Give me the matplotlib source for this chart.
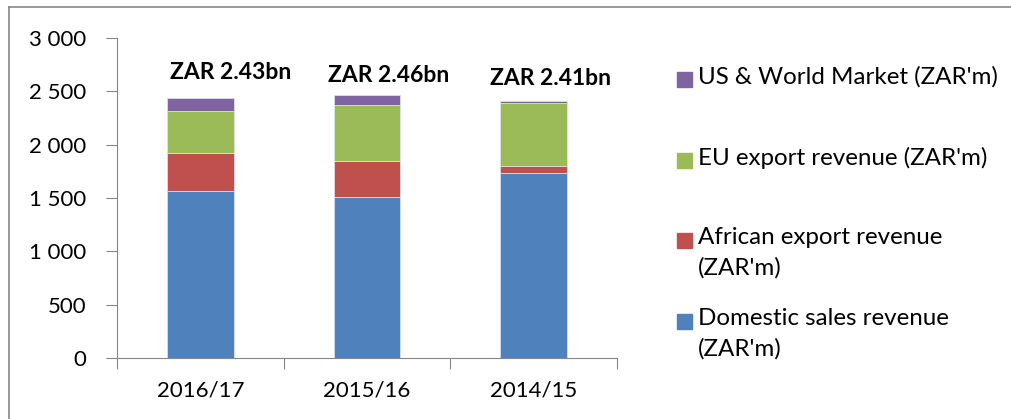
import numpy as np
import matplotlib.pyplot as plt
from matplotlib.lines import Line2D
from matplotlib.patches import Rectangle
from matplotlib.ticker import FuncFormatter, FixedLocator

plt.rcParams['font.family'] = ['Lato', 'DejaVu Sans']

years = ['2016/17', '2015/16', '2014/15']
domestic = [1566, 1512, 1734]
african = [356, 332, 69]
eu = [390, 528, 588]
us_world = [125, 90, 21]
total_labels = ['ZAR 2.43bn', 'ZAR 2.46bn', 'ZAR 2.41bn']

series = [
    ("Domestic sales revenue\n(ZAR'm)", domestic, '#4F81BD'),
    ("African export revenue\n(ZAR'm)", african, '#C0504D'),
    ("EU export revenue (ZAR'm)", eu, '#9BBB59'),
    ("US & World Market (ZAR'm)", us_world, '#8064A2'),
]

fig = plt.figure(figsize=(10.12, 4.19), dpi=100)
ax = fig.add_axes([117 / 1012, 1 - 358 / 419, 500 / 1012, 320 / 419])

x = np.arange(len(years))
bottom = np.zeros(len(years))
for name, vals, col in series:
    ax.bar(x, vals, 0.4, bottom=bottom, color=col, edgecolor='#dfe6f0', linewidth=0.5)
    bottom += np.array(vals)

# total labels above bars (placed a bit right of centre like the original)
dx = [0.18, 0.13, 0.10]
dy = [240, 190, 205]
for i, lab in enumerate(total_labels):
    ax.text(x[i] + dx[i], bottom[i] + dy[i], lab, ha='center', va='center',
            fontsize=16.5, fontweight='bold')

ax.set_xlim(-0.5, 2.5)
ax.set_ylim(0, 3000)
ax.set_yticks(np.arange(0, 3001, 500))
ax.yaxis.set_major_formatter(FuncFormatter(lambda v, p: f'{int(v):,}'.replace(',', ' ')))
ax.xaxis.set_major_locator(FixedLocator([-0.5, 0.5, 1.5, 2.5]))
ax.xaxis.set_minor_locator(FixedLocator(x))
ax.set_xticklabels([])
ax.set_xticklabels(years, minor=True)
ax.tick_params(axis='x', which='major', length=8, color='#868686', direction='out')
ax.tick_params(axis='x', which='minor', length=0, pad=16, labelsize=16)
ax.tick_params(axis='y', length=8, color='#868686', pad=14, labelsize=16)
for s in ['top', 'right']:
    ax.spines[s].set_visible(False)
for s in ['left', 'bottom']:
    ax.spines[s].set_color('#868686')

# legend drawn by hand, top entry first
W, H = 1012, 419
leg_y = [72, 153, 233, 314]
for (name, vals, col), yy in zip(series[::-1], leg_y):
    fig.patches.append(Rectangle((677 / W, 1 - (yy + 15) / H), 15 / W, 15 / H,
                                 transform=fig.transFigure, color=col))
    fig.text(698 / W, 1 - (yy - 6) / H, name, va='top', ha='left',
             fontsize=17.4, linespacing=1.5)

# outer frame
fig.add_artist(Line2D([9 / W, 9 / W], [0, 1 - 7 / H], transform=fig.transFigure,
                      color='#868686', lw=1.2))
fig.add_artist(Line2D([9 / W, 1], [1 - 7 / H, 1 - 7 / H], transform=fig.transFigure,
                      color='#868686', lw=1.2))

fig.savefig('out.png', dpi=100)
